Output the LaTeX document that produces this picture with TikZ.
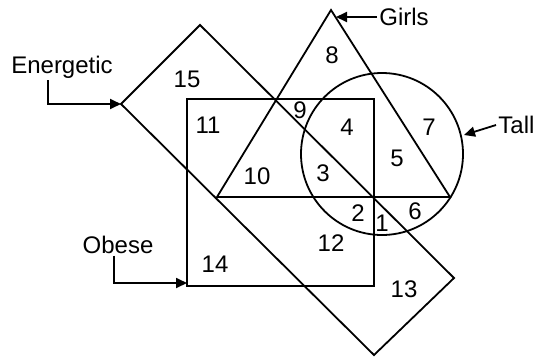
\documentclass[tikz,border=0pt]{standalone}
\usepackage{fontspec}
\setmainfont{Liberation Sans}
\usetikzlibrary{arrows.meta}

\begin{document}
\begin{tikzpicture}[x=1pt,y=-1pt,line width=1.8pt,
  txt/.style={font=\fontsize{24}{24}\selectfont,inner sep=1.5pt},
  pointer/.style={-{Triangle[length=11pt,width=10pt]},line width=1.8pt}]
\useasboundingbox (0,0)rectangle(534,357);

% energetic
\draw (121,104)coordinate(El)--(200,25)coordinate(Et)
 --(454,278)coordinate(Er)--(374,355)coordinate(Eb)--cycle;
% obese
\draw (187,99)coordinate(Otl)rectangle(374,286)coordinate(Obr);
% girls
\draw (331,10)coordinate(Gt)--(450,197)coordinate(Gr)
 --(217,197)coordinate(Gl)--cycle;
% tall
\draw (382,154)coordinate(T)circle[radius=81pt];

\foreach \n/\p in {1/{(382,223)},2/{(358,213)},3/{(323,173)},4/{(347,127)},
 5/{(397,158)},6/{(415,211)},7/{(429,127)},8/{(332,55)},9/{(300,110)},
 10/{(257,176)},11/{(208,125)},12/{(331,243)},13/{(404,289)},
 14/{(215,264)},15/{(187,79)}}
 \node[txt] (n\n) at \p {\n};

\node[txt,anchor=base] (ener) at (62,73) {Energetic};
\node[txt,anchor=base] (obese) at (118,253) {Obese};
\node[txt,anchor=west] (girls) at (377,17) {Girls};
\node[txt,anchor=west] (tall) at (496,125) {Tall};
\coordinate (Op) at (187,283);
\coordinate (Gp) at (336,17);
\coordinate (Tp) at (464,135);

\draw[pointer] ([xshift=-14pt]ener.south) |- (El);
\draw[pointer] ([xshift=-4pt]obese.south) |- (Op);
\draw[pointer] (girls.west) -- (Gp);
\draw[pointer] (tall.west) -- (Tp);
\end{tikzpicture}
\end{document}
